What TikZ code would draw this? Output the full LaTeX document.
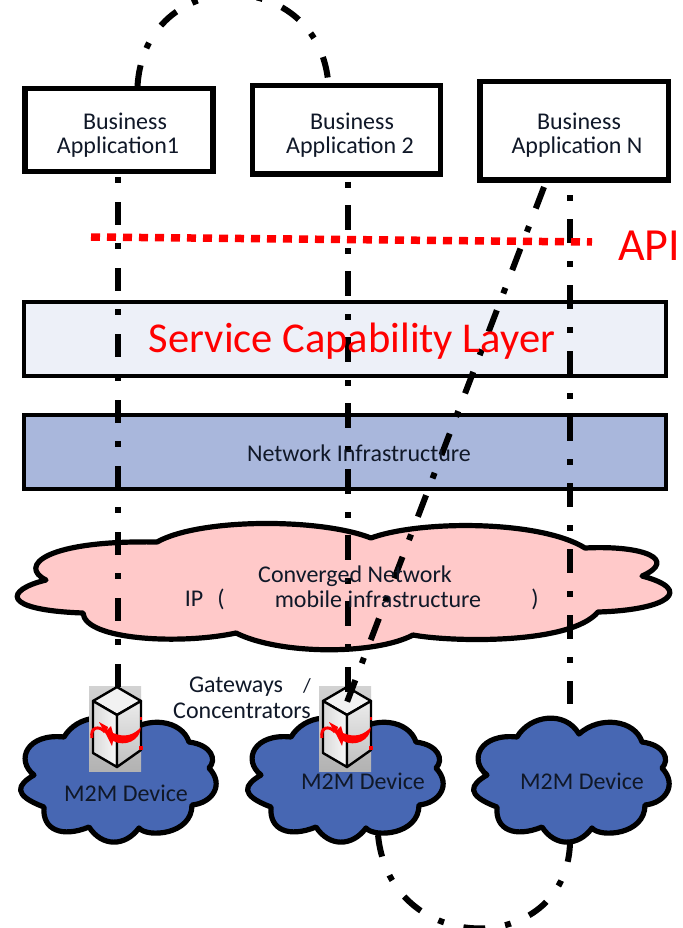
\documentclass[tikz,border=0pt]{standalone}
\usepackage{fontspec}
\setmainfont{Carlito}
\usetikzlibrary{shadings}
\definecolor{sclfill}{HTML}{EDF0F8}
\definecolor{nifill}{HTML}{A9B7DC}
\definecolor{pinkfill}{HTML}{FFC9C9}
\definecolor{bluefill}{HTML}{4767B3}
\definecolor{txtdark}{HTML}{101828}
\tikzset{
  appbox/.style={draw=black,fill=white,line width=5.5pt,inner sep=0pt},
  band/.style={draw=black,line width=4.5pt,inner sep=0pt,minimum width=642pt,minimum height=74pt},
  lbl/.style={inner sep=0pt,font=\fontsize{24}{26}\selectfont,text=txtdark},
  redlbl/.style={inner sep=0pt,font=\fontsize{42.5}{46}\selectfont,text=red},
  vlink/.style={draw=black,line width=6pt},
  cloudline/.style={draw=black,line width=5.2pt,line join=round},
  thick outline/.style={draw=black,line width=2.4pt,line join=round},
}
\newcommand{\bluecloud}{%
  \path[cloudline,fill=bluefill] (487,775)
   .. controls (468,760) and (480,733) .. (517,737)
   .. controls (530,715) and (565,710) .. (579,734)
   .. controls (600,715) and (635,720) .. (642,742)
   .. controls (665,745) and (670,760) .. (662,768)
   .. controls (678,785) and (665,803) .. (645,805)
   .. controls (645,835) and (600,838) .. (592,828)
   .. controls (578,847) and (555,847) .. (542,827)
   .. controls (515,838) and (495,830) .. (497,807)
   .. controls (465,795) and (470,785) .. (487,775) -- cycle;}
\newcommand{\serverpic}{%
  \path[top color=gray!35,middle color=white,bottom color=gray!60] (89,686) rectangle (141,771);
  \path[fill=white!90!gray,thick outline] (117,687) -- (141,701) -- (117,715) -- (93,701) -- cycle;
  \path[left color=gray!30,right color=white!95!gray,thick outline] (93,701) -- (117,715) -- (117,767) -- (93,753) -- cycle;
  \path[top color=white!85!gray,bottom color=gray!50,thick outline] (117,715) -- (141,701) -- (141,750) -- (117,767) -- cycle;
  \path[fill=red] (141,727) .. controls (140,741) and (125,747) .. (113,741) -- (112,746) -- (106,734) -- (99,722) -- (106,731) -- (111,726) -- (113,733) .. controls (125,738) and (134,735) .. (141,727) -- cycle;
  \path[draw=red,line width=3pt] (92,738) .. controls (90,727) and (99,725) .. (105,732);
  \path[fill=red] (99,722) -- (106,734) -- (108,727) -- cycle;
  \path[fill=red] (139,746) rectangle (143,750);
  \path[fill=red] (140,717) rectangle (142,720);}
\begin{document}
\begin{tikzpicture}[x=1pt,y=-1pt]
\useasboundingbox (0,0) rectangle (682,928);
\path[fill=white] (0,0) rectangle (682,928);
% boxes
\node[appbox,minimum width=188pt,minimum height=83pt] (app1) at (119,130) {};
\node[appbox,minimum width=188pt,minimum height=88.5pt] (app2) at (346.5,130) {};
\node[appbox,minimum width=188.5pt,minimum height=98.5pt] (appn) at (574,131) {};
\node[band,fill=sclfill] (scl) at (345,339) {};
\node[band,fill=nifill] (ni) at (345,452) {};
% pink cloud
\path[cloudline,fill=pinkfill] (46,580)
  .. controls (18,566) and (45,540) .. (157,542)
  .. controls (200,518) and (320,518) .. (371,538)
  .. controls (420,520) and (540,520) .. (585,548)
  .. controls (645,545) and (678,560) .. (642,576)
  .. controls (695,590) and (668,610) .. (598,612)
  .. controls (570,645) and (450,642) .. (413,635)
  .. controls (375,655) and (280,655) .. (236,633)
  .. controls (180,645) and (85,640) .. (83,613)
  .. controls (0,610) and (5,590) .. (46,580) -- cycle;
% blue clouds
\begin{scope}[shift={(-453,0)}]\bluecloud\end{scope}
\begin{scope}[shift={(-226,0)}]\bluecloud\end{scope}
\bluecloud
% anchors of connectors
\coordinate (a1top) at (137.5,86);
\coordinate (a2top) at (328,80);
\coordinate (a1b) at (118,177);
\coordinate (a2b) at (348,182);
\coordinate (anb) at (570,195);
\coordinate (anb2) at (544,187);
\coordinate (s1) at (118,687);
\coordinate (s2) at (348,693);
\coordinate (c3) at (570,704);
\coordinate (s2d) at (347,702);
\coordinate (c2b) at (378,835);
\coordinate (c3b) at (570,844);
\coordinate (apil) at (91,237);
\coordinate (apir) at (592,242);
% servers
\serverpic
\begin{scope}[shift={(230,0)}]\serverpic\end{scope}
% connectors
\draw[vlink,dash pattern=on 6pt off 19pt on 23pt off 18pt] (a1b) -- (s1);
\draw[vlink,dash pattern=on 6pt off 17pt on 25pt off 18pt] (a2b) -- (s2);
\draw[vlink,dash pattern=on 6pt off 18pt on 24pt off 18pt] (anb) -- (c3);
\draw[vlink,dash pattern=on 23pt off 19pt on 6pt off 18pt] (anb2) -- (s2d);
\draw[vlink,dash pattern=on 21pt off 18pt on 6pt off 21pt] (a1top) .. controls (145,-35) and (315,-35) .. (a2top);
\draw[vlink,dash pattern=on 22pt off 20pt on 6pt off 20pt] (c2b) .. controls (390,958) and (565,958) .. (c3b);
\draw[draw=red,line width=7.5pt,dash pattern=on 9pt off 7pt] (apil) -- (apir);
% labels
\node[lbl] (t1a) at (125,121) {Business};
\node[lbl] (t1b) at (118,147) {Application1};
\node[lbl] (t2a) at (352,121) {Business};
\node[lbl] (t2b) at (350,147) {Application 2};
\node[lbl] (t3a) at (579,121) {Business};
\node[lbl] (t3b) at (577,147) {Application N};
\node[redlbl,font=\fontsize{46}{50}\selectfont] (api) at (649,246) {API};
\node[redlbl] (scltxt) at (352,341) {Service Capability Layer};
\node[lbl] (nitxt) at (359,453) {Network Infrastructure};
\node[lbl] (conv) at (355,576) {Converged Network};
\node[lbl] (ip) at (194,599) {IP};
\node[lbl] (po) at (221,599) {(};
\node[lbl] (mob) at (378,599) {mobile infrastructure};
\node[lbl] (pc) at (535,599) {)};
\node[lbl] (gw) at (236,687) {Gateways};
\node[lbl,font=\fontsize{20}{22}\selectfont] (sl) at (307,686) {/};
\node[lbl] (conc) at (242,711) {Concentrators};
\node[lbl] (d1) at (126,793) {M2M Device};
\node[lbl] (d2) at (363,781) {M2M Device};
\node[lbl] (d3) at (582,781) {M2M Device};
\end{tikzpicture}
\end{document}
